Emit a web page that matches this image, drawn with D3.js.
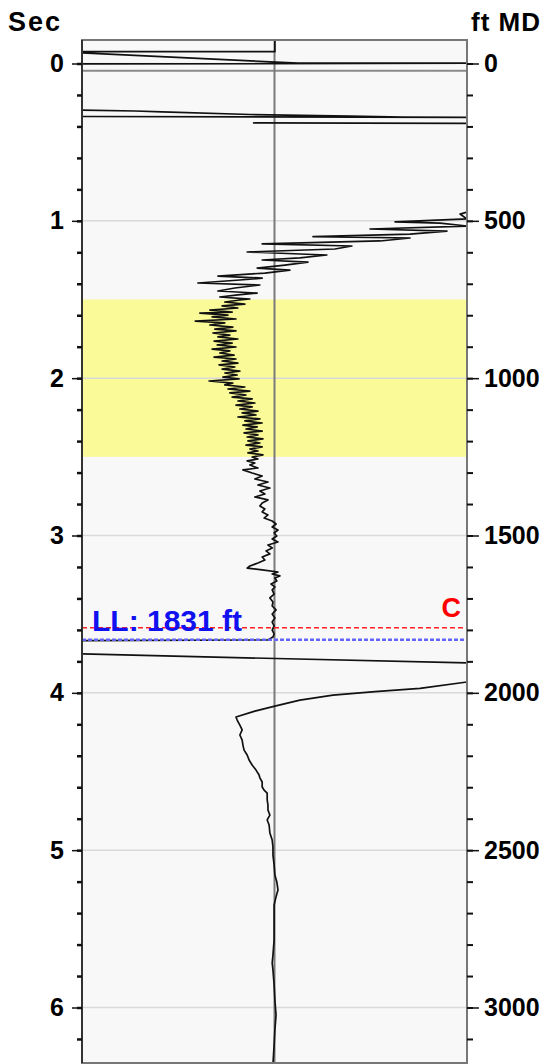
<!DOCTYPE html>
<html>
<head>
<meta charset="utf-8">
<script src="https://cdn.jsdelivr.net/npm/d3@7/dist/d3.min.js"></script>
<style>
  html, body { margin: 0; padding: 0; background: #ffffff; }
  svg { display: block; }
  text { font-family: "Liberation Sans", Arial, Helvetica, sans-serif; font-weight: bold; }
</style>
</head>
<body>
<svg id="chart" width="550" height="1064"></svg>
<script>
// ---------------- DATA ----------------
const secTicks = [0, 1, 2, 3, 4, 5, 6];
const ftTicks = [0, 500, 1000, 1500, 2000, 2500, 3000];
const secLabel = "Sec";
const ftLabel = "ft MD";
const bandTop = 1.5;      // sec
const bandBottom = 2.5;   // sec
const datumTime = 0.046;  // sec, grey reference line
const markerC = { label: "C", ft: 1793 };
const markerLL = { label: "LL: 1831 ft", ft: 1831 };

// trace segments: [time (sec), value (0-100 track units)]
const traceTopA = [[-0.149,50.1],[-0.075,50.1],[-0.075,0],[-0.067,0],[-0.003,56.1],[-0.003,100],[0.003,0]];
const traceTopB = [[0.296,0],[0.302,13.8],[0.308,20.8],[0.324,43.6],[0.334,69.6],[0.340,83.4],[0.343,100],[0.337,0]];
const traceTopC = [[0.378,44.4],[0.381,100]];
const traceMain = [
  [0.944,100],[0.957,98.2],[0.988,100],[1.006,81.3],[1.014,93.0],[1.033,100],[1.052,74.8],[1.065,94.8],
  [1.084,85.2],[1.101,60.0],[1.109,85.2],[1.128,77.4],[1.147,46.8],[1.160,70.1],[1.179,65.7],[1.198,42.9],
  [1.217,63.6],[1.236,56.6],[1.249,46.8],[1.262,58.7],[1.281,52.7],[1.300,45.5],[1.313,54.0],[1.332,47.5],
  [1.351,35.3],[1.364,46.8],[1.376,41.0],[1.395,30.1],[1.408,46.2],[1.427,39.7],[1.446,35.3],[1.459,45.5],
  [1.471,40.5],[1.484,35.8],[1.497,43.6],
  [1.503,41.0],[1.516,37.1],[1.529,42.3],[1.541,36.4],[1.554,40.5],[1.567,33.2],[1.580,39.0],[1.586,30.6],
  [1.599,37.9],[1.611,33.8],[1.624,40.0],[1.637,29.4],[1.649,37.1],[1.662,33.2],[1.675,39.2],[1.688,34.5],
  [1.700,40.0],[1.713,34.0],[1.726,38.4],[1.738,35.3],[1.751,40.5],[1.764,34.3],[1.777,39.0],[1.789,35.1],
  [1.802,40.0],[1.815,33.8],[1.827,38.4],[1.840,35.8],[1.853,39.5],[1.866,34.3],[1.878,40.0],[1.891,36.4],
  [1.904,40.5],[1.916,35.6],[1.929,39.7],[1.942,36.4],[1.955,41.0],[1.967,37.1],[1.980,40.3],[1.993,36.6],
  [2.005,40.8],[2.018,33.0],[2.031,39.2],[2.043,37.1],[2.056,42.3],[2.069,37.9],[2.082,43.6],[2.094,38.4],
  [2.107,42.6],[2.120,39.0],[2.132,44.2],[2.145,40.5],[2.158,44.9],[2.171,40.0],[2.183,44.2],[2.196,41.0],
  [2.209,45.7],[2.221,41.6],[2.234,45.2],[2.247,40.5],[2.259,46.2],[2.272,42.3],[2.285,46.8],[2.298,41.8],
  [2.310,45.5],[2.323,42.6],[2.336,46.8],[2.348,42.1],[2.361,45.7],[2.374,42.9],[2.386,47.0],[2.399,43.1],
  [2.412,46.2],[2.425,42.6],[2.437,46.8],[2.450,43.6],[2.463,45.7],[2.475,43.1],[2.488,47.0],[2.501,44.2],
  [2.514,45.7],[2.526,42.9],[2.539,44.9],[2.552,43.6],[2.571,45.7],[2.583,41.8],[2.603,44.2],[2.622,46.8],
  [2.641,44.9],[2.660,48.3],[2.679,45.7],[2.698,48.8],[2.717,46.2],[2.736,47.5],[2.755,44.9],[2.774,48.3],
  [2.793,46.8],[2.812,46.2],[2.831,47.5],[2.850,46.8],[2.869,48.3],[2.889,47.3],[2.908,49.4],[2.927,50.4],
  [2.946,49.4],[2.965,50.9],[2.984,49.9],[3.003,50.6],[3.022,49.4],[3.041,50.9],[3.060,48.3],[3.079,49.4],
  [3.098,47.8],[3.117,48.8],[3.137,46.8],[3.156,47.5],[3.175,45.7],[3.194,43.6],[3.207,42.9],[3.219,46.8],
  [3.232,50.9],[3.245,49.4],[3.257,51.4],[3.270,50.1],[3.289,50.6],[3.308,49.1],[3.327,50.1],[3.346,49.4],
  [3.372,49.9],[3.397,48.8],[3.423,49.6],[3.448,49.4],[3.473,50.4],[3.499,49.4],[3.524,50.1],[3.550,49.4],
  [3.575,49.9],[3.601,49.4],[3.626,49.9],[3.645,49.6],[3.664,48.3],[3.668,0]
];
const traceCross = [[3.753,0],[3.810,100]];
const traceLower = [
  [3.931,100],[3.972,87.8],[3.992,76.1],[4.014,65.2],[4.046,56.6],[4.084,50.1],[4.116,44.9],[4.154,40.0],[4.173,40.3],
  [4.205,41.0],[4.236,41.6],[4.268,41.0],[4.300,41.6],[4.332,41.8],[4.364,42.1],[4.395,42.9],[4.427,43.4],
  [4.459,44.2],[4.491,45.2],[4.522,46.0],[4.541,46.2],[4.567,46.8],[4.599,46.8],[4.618,47.3],[4.637,48.1],
  [4.681,48.1],[4.713,48.3],[4.745,48.3],[4.777,48.8],[4.808,48.1],[4.840,48.6],[4.891,48.8],[4.936,49.4],
  [4.980,49.6],[5.031,49.6],[5.094,49.9],[5.158,50.1],[5.202,50.6],[5.253,50.9],[5.297,50.4],[5.348,49.9],
  [5.443,49.9],[5.570,49.9],[5.666,49.6],[5.717,49.4],[5.761,49.6],[5.857,49.9],[5.952,50.1],[6.048,50.4],
  [6.143,50.1],[6.239,49.9],[6.360,49.6]
];
const traceSegments = [traceTopA, traceTopB, traceTopC, traceMain, traceCross, traceLower];

// ---------------- LAYOUT ----------------
const plot = { left: 82, right: 467, top: 40, bottom: 1063 };
const svg = d3.select("#chart");

const y = d3.scaleLinear().domain([0, 6]).range([63.5, 1007.5]);
const yFt = d3.scaleLinear().domain([0, 3000]).range([63.5, 1007.5]);
const x = d3.scaleLinear().domain([0, 100]).range([plot.left, plot.right]);
const tMin = y.invert(plot.top), tMax = y.invert(plot.bottom);

// clip
svg.append("defs").append("clipPath").attr("id", "clip")
  .append("rect").attr("x", plot.left).attr("y", plot.top)
  .attr("width", plot.right - plot.left).attr("height", plot.bottom - plot.top);

// background
svg.append("rect").attr("x", plot.left).attr("y", plot.top)
  .attr("width", plot.right - plot.left).attr("height", plot.bottom - plot.top)
  .attr("fill", "#f8f8f8");

// yellow band
svg.append("rect").attr("x", plot.left).attr("y", y(bandTop))
  .attr("width", plot.right - plot.left).attr("height", y(bandBottom) - y(bandTop))
  .attr("fill", "#fafa98");

// grid lines
svg.append("g").selectAll("line").data(secTicks).join("line")
  .attr("x1", plot.left).attr("x2", plot.right)
  .attr("y1", d => y(d)).attr("y2", d => y(d))
  .attr("stroke", "#d9d9d9").attr("stroke-width", 1.5);

// datum line
svg.append("line").attr("x1", plot.left).attr("x2", plot.right)
  .attr("y1", y(datumTime)).attr("y2", y(datumTime))
  .attr("stroke", "#8a8a8a").attr("stroke-width", 2);

// centre line
svg.append("line").attr("x1", x(50)).attr("x2", x(50))
  .attr("y1", plot.top).attr("y2", plot.bottom)
  .attr("stroke", "#7a7a7a").attr("stroke-width", 2);

// traces
const line = d3.line().x(d => x(d[1])).y(d => y(d[0]));
svg.append("g").attr("clip-path", "url(#clip)")
  .selectAll("path").data(traceSegments).join("path")
  .attr("d", line).attr("fill", "none")
  .attr("stroke", "#111").attr("stroke-width", 1.7).attr("stroke-linejoin", "round");

// marker lines
svg.append("line").attr("x1", plot.left).attr("x2", plot.right)
  .attr("y1", yFt(markerC.ft)).attr("y2", yFt(markerC.ft))
  .attr("stroke", "#ff2020").attr("stroke-width", 1.5).attr("stroke-dasharray", "5,3");
svg.append("line").attr("x1", plot.left).attr("x2", plot.right)
  .attr("y1", yFt(markerLL.ft)).attr("y2", yFt(markerLL.ft))
  .attr("stroke", "#6464ff").attr("stroke-width", 2.5).attr("stroke-dasharray", "4,2");

svg.append("text").attr("x", plot.right - 6).attr("y", yFt(markerC.ft) - 11)
  .attr("text-anchor", "end").attr("font-size", 27).attr("fill", "#ff0000")
  .text(markerC.label);
svg.append("text").attr("x", plot.left + 10).attr("y", yFt(markerLL.ft) - 9)
  .attr("font-size", 30).attr("fill", "#1010f0")
  .text(markerLL.label);

// frame
svg.append("rect").attr("x", plot.left).attr("y", plot.top)
  .attr("width", plot.right - plot.left).attr("height", plot.bottom - plot.top)
  .attr("fill", "none").attr("stroke", "#777").attr("stroke-width", 2);
svg.append("line").attr("x1", plot.left).attr("x2", plot.left)
  .attr("y1", plot.top).attr("y2", plot.bottom)
  .attr("stroke", "#333").attr("stroke-width", 2);

// minor ticks
const minorSec = d3.range(-0.2, 6.41, 0.2).filter(t => t > tMin && t < tMax);
svg.append("g").attr("transform", `translate(${plot.left},0)`)
  .call(d3.axisLeft(y).tickValues(minorSec).tickSize(5).tickFormat(""))
  .call(g => g.select(".domain").remove())
  .call(g => g.selectAll(".tick line").attr("stroke", "#111").attr("stroke-width", 2.5));
const minorFt = d3.range(-100, 3201, 100).filter(f => yFt(f) > plot.top && yFt(f) < plot.bottom);
svg.append("g").attr("transform", `translate(${plot.right},0)`)
  .call(d3.axisRight(yFt).tickValues(minorFt).tickSize(6).tickFormat(""))
  .call(g => g.select(".domain").remove())
  .call(g => g.selectAll(".tick line").attr("stroke", "#111").attr("stroke-width", 2));

// major axes
svg.append("g").attr("transform", `translate(${plot.left},0)`)
  .call(d3.axisLeft(y).tickValues(secTicks).tickSize(10).tickPadding(8).tickFormat(d3.format("d")))
  .call(g => g.select(".domain").remove())
  .call(g => g.selectAll(".tick line").attr("stroke", "#111").attr("stroke-width", 1.5))
  .call(g => g.selectAll(".tick text").attr("font-size", 25).attr("fill", "#000")
    .attr("font-family", "Liberation Sans, Arial, sans-serif").attr("font-weight", "bold"));
svg.append("g").attr("transform", `translate(${plot.right},0)`)
  .call(d3.axisRight(yFt).tickValues(ftTicks).tickSize(12).tickPadding(5).tickFormat(d3.format("d")))
  .call(g => g.select(".domain").remove())
  .call(g => g.selectAll(".tick line").attr("stroke", "#111").attr("stroke-width", 1.5))
  .call(g => g.selectAll(".tick text").attr("font-size", 25).attr("fill", "#000")
    .attr("font-family", "Liberation Sans, Arial, sans-serif").attr("font-weight", "bold"));

// axis titles
svg.append("text").attr("x", 8).attr("y", 31).attr("font-size", 27)
  .attr("letter-spacing", 2).attr("fill", "#000").text(secLabel);
svg.append("text").attr("x", 471).attr("y", 31).attr("font-size", 26)
  .attr("letter-spacing", 1).attr("fill", "#000").text(ftLabel);
</script>
</body>
</html>
